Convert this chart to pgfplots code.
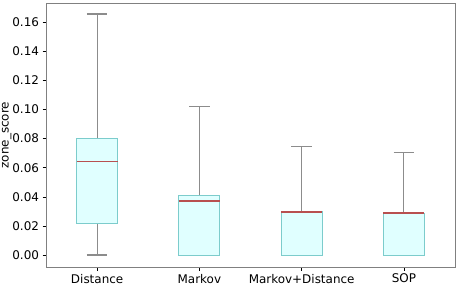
\documentclass[border=0pt]{standalone}
\usepackage{fontspec}
\setmainfont{DejaVu Sans}
\usepackage{pgfplots}
\pgfplotsset{compat=1.18}
\usepgfplotslibrary{statistics}
\usetikzlibrary{calc}
\definecolor{boxfill}{HTML}{E0FFFF}
\definecolor{boxedge}{HTML}{7CCCCC}
\definecolor{medcol}{HTML}{B85050}
\definecolor{whisk}{HTML}{8C8C8C}
\definecolor{frame}{HTML}{808080}
\begin{document}
\begin{tikzpicture}
\begin{axis}[
  scale only axis,
  width=409bp, height=264bp,
  xmin=0.5, xmax=4.5,
  ymin=-0.00825, ymax=0.17325,
  xtick={1,2,3,4},
  xticklabels={Distance,Markov,Markov+Distance,SOP},
  ytick={0,0.02,0.04,0.06,0.08,0.10,0.12,0.14,0.16},
  yticklabels={0.00,0.02,0.04,0.06,0.08,0.10,0.12,0.14,0.16},
  tick label style={font=\fontsize{12}{14}\selectfont, black},
  ylabel={zone\_score},
  ylabel style={font=\fontsize{12}{14}\selectfont, yshift=-6bp},
  tick align=outside,
  major tick length=3.5bp,
  tick style={black, line width=0.6bp},
  xtick pos=bottom, ytick pos=left,
  axis line style={frame, line width=0.9bp},
  boxplot/draw direction=y,
  boxplot/box extend=0.4,
  boxplot/whisker extend=0.2,
  boxplot/every box/.style={draw=boxedge, fill=boxfill, line width=0.9bp},
  boxplot/every whisker/.style={draw=whisk, line width=1.1bp},
  boxplot/every median/.style={draw=medcol, line width=1.8bp},
]
\addplot[whisk, boxplot prepared={draw position=1, lower whisker=0.0, lower quartile=0.0220, median=0.0643, upper quartile=0.0799, upper whisker=0.1657}] coordinates {};
\addplot[whisk, boxplot prepared={draw position=2, lower whisker=0.0, lower quartile=0.0, median=0.0374, upper quartile=0.0410, upper whisker=0.1023}] coordinates {};
\addplot[whisk, boxplot prepared={draw position=3, lower whisker=0.0, lower quartile=0.0, median=0.0297, upper quartile=0.0300, upper whisker=0.0744}] coordinates {};
\addplot[whisk, boxplot prepared={draw position=4, lower whisker=0.0, lower quartile=0.0, median=0.0289, upper quartile=0.0289, upper whisker=0.0705}] coordinates {};
\end{axis}
\pgfresetboundingbox
\path ($(current axis.south west)+(-46bp,-18bp)$) rectangle ($(current axis.north east)+(2bp,3bp)$);
\end{tikzpicture}
\end{document}
